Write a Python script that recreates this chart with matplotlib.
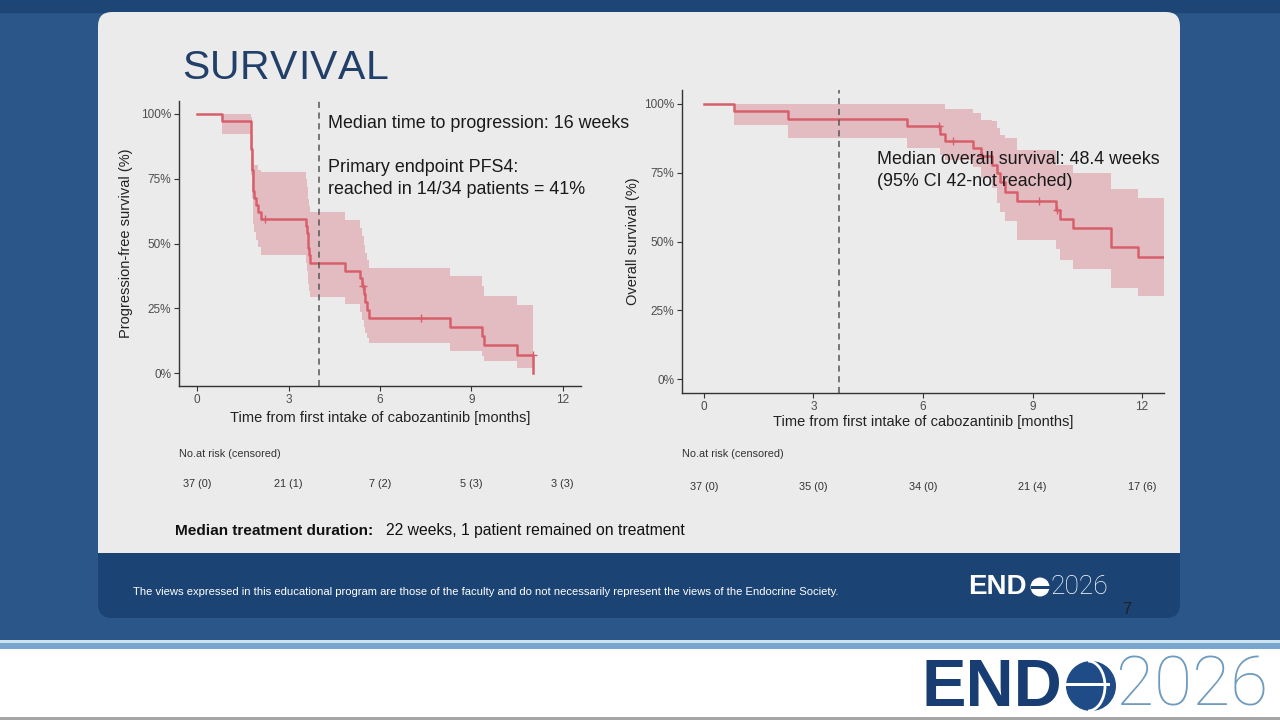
import numpy as np
import matplotlib
matplotlib.use("Agg")
import matplotlib.pyplot as plt
from matplotlib.patches import FancyBboxPatch, Rectangle, Circle, Arc
from matplotlib.transforms import blended_transform_factory

plt.rcParams['font.family'] = ['Liberation Sans', 'DejaVu Sans']

# ---- data: progression-free survival (KM steps, months / %)
pfs_time = [0, 0.82, 1.75, 1.76, 1.77, 1.78, 1.79, 1.80, 1.81, 1.82, 1.83, 1.84, 1.86,
            1.92, 1.98, 2.10, 3.58, 3.60, 3.62, 3.64, 3.66, 3.70, 4.86, 5.35, 5.40,
            5.48, 5.52, 5.58, 5.63, 8.30, 9.34, 9.42, 10.51, 11.04]
pfs_surv = [100, 97.3, 94.6, 91.9, 89.2, 86.5, 83.8, 81.1, 78.4, 75.7, 73.0, 70.3, 67.6,
            64.9, 62.2, 59.5, 56.7, 53.9, 51.1, 48.3, 45.4, 42.4, 39.5, 36.5, 33.6,
            30.6, 27.5, 24.5, 21.4, 17.9, 14.3, 10.7, 7.1, 0]
pfs_lo = [100, 92.3, 86, 83, 80, 76.5, 73.5, 70.5, 67.5, 64.5, 61, 57.5, 54.4,
          51.5, 48.8, 45.6, 42.5, 39.5, 37, 34.5, 31.8, 29.2, 26.6, 23.5, 20.5,
          17.8, 15.5, 13.5, 11.6, 8.6, 6.5, 4.5, 1.9, 0]
pfs_hi = [100, 100, 100, 100, 100, 99, 97, 95, 92, 89, 86, 83, 80.3,
          80.3, 78.5, 77.6, 75, 72, 69.5, 67, 64.5, 62.1, 59.1, 56, 53,
          49.5, 46.5, 43.5, 40.7, 37.3, 33.5, 29.8, 26.3, 0]
pfs_cens_t = [2.24, 5.43, 7.35, 11.02]
pfs_cens_s = [59.5, 33.6, 21.4, 7.1]
pfs_median = 4.0

# ---- data: overall survival
os_time = [0, 0.82, 2.31, 5.57, 6.47, 6.60, 7.38, 7.59, 7.90, 8.02, 8.12, 8.25, 8.57,
           9.64, 9.74, 10.10, 11.15, 11.90, 12.6]
os_surv = [100, 97.3, 94.6, 91.9, 89.2, 86.5, 83.8, 80.9, 77.8, 74.7, 71.5, 68.1, 64.7,
           61.4, 58.2, 54.8, 47.9, 44.5, 44.5]
os_lo = [100, 92.4, 87.7, 83.9, 81.5, 79.6, 77.0, 73.0, 69.5, 64.0, 60.8, 57.5, 50.5,
         47.1, 43.4, 39.9, 33.3, 30.1, 30.1]
os_hi = [100, 100, 100, 100, 100, 98.2, 96.6, 94.2, 93.6, 91.2, 88.7, 87.5, 83.3,
         77.8, 77.8, 75.0, 69.0, 65.9, 65.9]
os_cens_t = [6.44, 6.83, 7.62, 9.19, 9.66]
os_cens_s = [91.9, 86.5, 80.9, 64.7, 61.4]
os_median = 3.71

risk_times = [0, 3, 6, 9, 12]
pfs_risk = ['37 (0)', '21 (1)', '7 (2)', '5 (3)', '3 (3)']
os_risk = ['37 (0)', '35 (0)', '34 (0)', '21 (4)', '17 (6)']

W, H = 1280, 720
LINE = '#d65f6b'
BAND = '#dc8e98'
PANEL = '#ebebeb'
FOOT = '#1b4373'


def fx(x):
    return x / W


def fy(y):
    return 1 - y / H


fig = plt.figure(figsize=(12.8, 7.2), dpi=100)
fig.patch.set_facecolor('#2a5689')
renderer = fig.canvas.get_renderer()

# slide background in pixel coordinates
bg = fig.add_axes([0, 0, 1, 1], zorder=0)
bg.set_xlim(0, W)
bg.set_ylim(H, 0)
bg.axis('off')
bg.add_patch(Rectangle((0, 0), W, 12, color='#1d4677'))
bg.add_patch(FancyBboxPatch((98, 12), 1082, 606, boxstyle='round,pad=0,rounding_size=14',
                            fc=FOOT, ec='none'))
bg.add_patch(FancyBboxPatch((98, 12), 1082, 570, boxstyle='round,pad=0,rounding_size=14',
                            fc=PANEL, ec='none'))
bg.add_patch(Rectangle((98, 553), 1082, 40, fc=FOOT, ec='none'))
bg.add_patch(Rectangle((0, 640), W, 3, fc='#cfe4f0', ec='none'))
bg.add_patch(Rectangle((0, 643), W, 6, fc='#79a6cf', ec='none'))
bg.add_patch(Rectangle((0, 649), W, 68, fc='white', ec='none'))
bg.add_patch(Rectangle((0, 717), W, 3, fc='#a5a5a5', ec='none'))

# small footer logo globe
bg.add_patch(Circle((1040, 587), 9.5, fc='white', ec='none'))
bg.add_patch(Rectangle((1030.5, 585.5), 19, 3, fc=FOOT, ec='none'))
# large logo globe
bg.add_patch(Circle((1091, 686), 25, fc='#1f4c86', ec='none'))
bg.add_patch(Rectangle((1066, 683), 44, 3, fc='white', ec='none'))
bg.add_patch(Arc((1088, 686), 34, 50, theta1=-90, theta2=90, color='white', lw=2))


def km_panel(rect, t, s, lo, hi, ct, cs, med, ylabel, ylab_x, xlab_y):
    ax = fig.add_axes(rect, zorder=2)
    ax.set_facecolor('none')
    ax.fill_between(t, lo, hi, step='post', color=BAND, alpha=0.5, lw=0)
    ax.step(t, s, where='post', color=LINE, lw=1.8)
    ax.plot(ct, cs, '+', color=LINE, ms=6, mew=1.0)
    ax.axvline(med, color='#555555', lw=1.1, ls=(0, (4, 3)))
    ax.set_xlim(-0.6, 12.6)
    ax.set_ylim(-5, 105)
    ax.set_xticks(risk_times)
    ax.set_yticks([0, 25, 50, 75, 100])
    ax.set_yticklabels(['0%', '25%', '50%', '75%', '100%'])
    for sp in ['top', 'right']:
        ax.spines[sp].set_visible(False)
    for sp in ['left', 'bottom']:
        ax.spines[sp].set_color('#333333')
        ax.spines[sp].set_linewidth(1.0)
    ax.tick_params(colors='#333333', labelcolor='#4d4d4d', labelsize=8.5, length=3.5, pad=2)
    ax.set_xlabel('Time from first intake of cabozantinib [months]', fontsize=10.5, color='#222222')
    ax.set_ylabel(ylabel, fontsize=10.5, color='#222222')
    ax.yaxis.set_label_coords(ylab_x, 0.5)
    ax.xaxis.set_label_coords(0.5, xlab_y)
    return ax


ax1 = km_panel([fx(179), fy(386), fx(402), 285 / H], pfs_time, pfs_surv, pfs_lo, pfs_hi,
               pfs_cens_t, pfs_cens_s, pfs_median, 'Progression-free survival (%)', -0.115, -0.088)
ax2 = km_panel([fx(682), fy(393), fx(482), 303 / H], os_time, os_surv, os_lo, os_hi,
               os_cens_t, os_cens_s, os_median, 'Overall survival (%)', -0.087, -0.073)

# number at risk tables
for ax, labels, x0, yv in [(ax1, pfs_risk, 179, 484), (ax2, os_risk, 682, 487)]:
    fig.text(fx(x0), fy(454), 'No.at risk (censored)', fontsize=7.8, color='#333333', va='center')
    tr = blended_transform_factory(ax.transData, fig.transFigure)
    for t, lab in zip(risk_times, labels):
        fig.text(t, fy(yv), lab, transform=tr, fontsize=7.8, color='#333333',
                 ha='center', va='center')

# title with letter spacing
x = 182
for ch in 'SURVIVAL':
    t = fig.text(fx(x), fy(79), ch, fontsize=29.5, color='#213f68', va='baseline')
    x += t.get_window_extent(renderer).width + 0.6

fs = 12.9
fig.text(fx(328), fy(124), 'Median time to progression: 16 weeks', fontsize=fs,
         color='#1a1a1a', va='center')
fig.text(fx(328), fy(168), 'Primary endpoint PFS4:', fontsize=fs, color='#1a1a1a', va='center')
fig.text(fx(328), fy(189), 'reached in 14/34 patients = 41%', fontsize=fs,
         color='#1a1a1a', va='center')
fig.text(fx(877), fy(159), 'Median overall survival: 48.4 weeks', fontsize=fs,
         color='#1a1a1a', va='center')
fig.text(fx(877), fy(181), '(95% CI 42-not reached)', fontsize=fs, color='#1a1a1a', va='center')

fig.text(fx(175), fy(531), 'Median treatment duration:', fontsize=11.1, fontweight='bold',
         color='#111111', va='center')
fig.text(fx(386), fy(531), '22 weeks, 1 patient remained on treatment', fontsize=11.3,
         color='#111111', va='center')

# footer
fig.text(fx(133), fy(592), 'The views expressed in this educational program are those of the faculty '
         'and do not necessarily represent the views of the Endocrine Society.',
         fontsize=8.1, color='white', va='center')
fig.text(fx(968), fy(594), 'END', fontsize=20, fontweight='bold', color='white', va='baseline')
fig.text(fx(1051), fy(594), '2026', fontsize=19, family='Roboto', fontweight='light',
         color='white', va='baseline')
fig.text(fx(1127), fy(610), '7', fontsize=12, color='#222222', va='center', ha='center')
fig.text(fx(921), fy(706), 'END', fontsize=48, fontweight='bold', color='#173d72', va='baseline')
fig.text(fx(1116), fy(706), '2026', fontsize=50, family='Roboto', fontweight='light',
         color='#6e9bbf', va='baseline')

fig.savefig('out.png', dpi=100, facecolor=fig.get_facecolor())
